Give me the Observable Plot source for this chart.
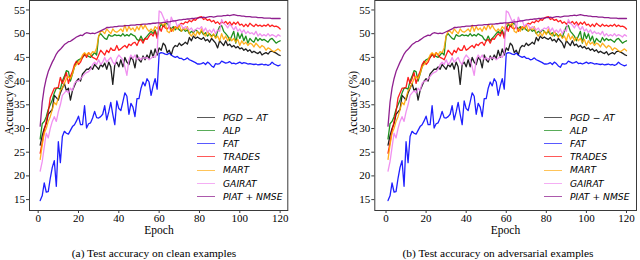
<!DOCTYPE html>
<html>
<head>
<meta charset="utf-8">
<script src="https://cdn.jsdelivr.net/npm/d3@7"></script>
<script src="https://cdn.jsdelivr.net/npm/@observablehq/plot@0.6"></script>
<style>
  html, body { margin: 0; padding: 0; background: #fff; }
  #root { position: relative; width: 640px; height: 260px; overflow: hidden; background: #fff; font-family: "Liberation Serif", "DejaVu Serif", serif; }
  .ylab { position: absolute; font-size: 11.5px; line-height: 12px; white-space: nowrap; transform: translate(-50%, -50%) rotate(-90deg); }
  .xlab { position: absolute; font-size: 11.5px; line-height: 12px; white-space: nowrap; transform: translate(-50%, -50%); }
  .cap { position: absolute; font-size: 11.4px; line-height: 12px; white-space: nowrap; transform: translate(-50%, -50%); }
  .leg { position: absolute; font-family: "DejaVu Sans", sans-serif; font-style: italic; font-size: 9.2px; line-height: 10px; white-space: nowrap; transform: translateY(-50%); }
  .legline { position: absolute; height: 0; border-top: 1.5px solid; }
</style>
</head>
<body>
<div id="root"></div>
<script>
// ---- data ----
const seriesNames = ["PGD \u2212 AT", "ALP", "FAT", "TRADES", "MART", "GAIRAT", "PIAT + NMSE"];
const seriesColors = ["#000000", "#008000", "#0000ff", "#ff0000", "#ffa500", "#ee82ee", "#800080"];
const xTicks = [0, 20, 40, 60, 80, 100, 120];
const yTicks = [15, 20, 25, 30, 35, 40, 45, 50, 55];
const captions = ["(a)  Test accuracy on clean examples", "(b)  Test accuracy on adversarial examples"];

const pgdAT = [
 26.5, 28.5, 30, 31, 33, 33.5, 34, 37, 36.5, 36,
 37.5, 38.5, 39.5, 38, 38.5, 36, 38, 39, 40, 40.5,
 40, 41.5, 42, 42.5, 42.5, 43, 42.5, 43.5, 43, 42.5,
 43.5, 43, 43.8, 42.5, 44, 43, 39.3, 43.5, 44, 43,
 44.5, 43, 45, 44, 43.5, 45, 44.5, 42.8, 45.5, 44.5,
 44, 45.3, 44.5, 45.5, 44.8, 46.5, 45, 46.8, 45.5, 47,
 46.5, 48, 47.5, 46, 46.5, 45.5, 47, 47.5, 47.3, 48,
 47.5, 47.8, 48.2, 47.8, 49.2, 48.5, 49.5, 49, 49.3, 49,
 48.8, 49.2, 48.5, 48.8, 48.2, 49, 48.5, 48, 47, 48.5,
 48, 47.5, 48.5, 47.5, 47.8, 47.2, 47.5, 47, 47.3, 46.8,
 47, 46.5, 46.8, 46.3, 46.6, 46, 46.3, 46, 45.8, 46.2,
 45.5, 45.8, 46, 45.7, 46.2, 46.3, 46.1, 45.9, 45.6, 45.4];
const alp = [
 27.8, 31, 31.5, 32.5, 34, 35, 36, 37.5, 38.5, 38.5,
 38.3, 40, 41, 42.2, 42, 40, 41.5, 43, 44, 44.5,
 44.7, 45, 45.5, 45.5, 45.2, 45, 45.5, 46, 45.5, 49.5,
 50, 49.5, 49, 48.8, 49.8, 49.5, 49.5, 49.8, 49.6, 49.7,
 49.5, 50, 49.5, 49.8, 49.5, 50, 49.7, 49.5, 48.8, 48.5,
 49.5, 48.5, 49, 49.5, 50, 50.5, 50, 50.8, 49.5, 51,
 52, 51.5, 52, 52.2, 51.5, 51, 51.5, 50.8, 51.3, 50.8,
 50.5, 51, 50.5, 50.8, 50, 50.5, 50.2, 50.8, 50.5, 50,
 50.5, 49.8, 50.2, 49.5, 50, 49.5, 49.8, 49.2, 50.5, 51.5,
 51.7, 50.5, 50, 49.5, 48.5, 49.5, 50.5, 48, 50.2, 49,
 50, 48.5, 49.5, 48, 49, 48.5, 48.2, 49.2, 48.5, 49,
 48.6, 48.8, 48.5, 48.2, 48.8, 49, 48.5, 48, 48.3, 48.5];
const fat = [
 14.8, 15.8, 18.5, 16.6, 16.7, 19.5, 21.8, 23.2, 17.8, 27.2,
 22.8, 28.3, 29.4, 29, 28.8, 29.6, 30.4, 30.8, 31.6, 32.6,
 30.8, 30.8, 34.8, 30.1, 31, 31.2, 32.2, 33.6, 32.3, 32.2,
 32.5, 33, 34.8, 31.8, 33.5, 35.5, 33, 30.8, 35.8, 34.2,
 33.8, 35.6, 37.5, 36.8, 33, 35.3, 34.5, 32.5, 36.3, 36.3,
 38.5, 39.8, 39, 40.5, 39.8, 37, 39, 40.5, 38.3, 45.8,
 46, 45.9, 45.7, 45.6, 45.9, 45.5, 45.2, 45, 45.2, 44.8,
 44.8, 44.5, 44.6, 44.9, 44.5, 44.3, 44.1, 43.9, 43.6, 43.6,
 43.7, 43.9, 43.5, 44, 43.7, 43.2, 42.9, 43.7, 43.6, 43.7,
 44.2, 44, 43.8, 43.9, 44.1, 43.7, 43.8, 43.6, 43.8, 44,
 43.7, 43.9, 43.8, 43.6, 43.7, 43.6, 43.5, 43.6, 43.4, 43.5,
 43.6, 43.4, 43.5, 43.3, 43.5, 44, 43.6, 43.4, 43.2, 43.4];
const trades = [
 24.8, 27, 29.5, 31.5, 33.5, 36.5, 37.5, 38.5, 38.5, 38.7,
 40.8, 39.5, 40.5, 41.8, 39.5, 41, 42, 43.5, 44.2, 43.5,
 44, 45, 45.8, 45, 46, 45.5, 45, 44.8, 44.5, 45.5,
 46.5, 46, 45.5, 46.5, 46, 47, 46.5, 46.5, 47.5, 46.5,
 46.8, 47.2, 47.5, 47, 47.8, 47.5, 48, 48.2, 47.5, 48.5,
 48.8, 48, 49, 48.8, 49.5, 50, 49.5, 50.5, 49, 51.5,
 50.5, 51.8, 51.2, 51, 51.5, 50.5, 51, 51.5, 51.2, 51.8,
 52.2, 52, 52.5, 52.3, 52.8, 52.5, 53, 52.8, 53.3, 53.5,
 53.6, 53, 53.2, 52.8, 53, 52.5, 52.8, 52.2, 52.5, 52,
 52.5, 52.2, 52.6, 52, 52.5, 51.8, 52.4, 52, 52.5, 51.8,
 52, 51.5, 52, 51.5, 52.2, 51.8, 51.5, 52, 51.6, 51.8,
 51.5, 51.8, 51.6, 52, 51.5, 51.8, 51.5, 51.6, 51.4, 51];
const mart = [
 23.5, 26.5, 29, 30, 31.5, 32.5, 34, 35.5, 35, 36.5,
 38, 38.5, 39.5, 40.5, 41, 40.5, 41.5, 43, 43.5, 44,
 44.5, 45.5, 46, 45.5, 46, 45.5, 46.2, 46, 47, 49.5,
 50.5, 50.5, 50, 51, 50.5, 50, 51, 50.5, 50.3, 50.6,
 51, 50.4, 51.8, 50.5, 51.5, 50.8, 51.2, 50.5, 51.5, 50.8,
 52, 51, 51.8, 51, 50.5, 51, 50.5, 51.5, 51, 52,
 52.2, 51.8, 52.3, 50.5, 50.2, 51, 50.5, 51.5, 51, 51.8,
 50.5, 51.2, 50.8, 51.5, 50, 49.5, 50.2, 49.5, 50.5, 49.8,
 51, 50, 49.5, 50.5, 49.8, 49.2, 50, 49, 49.5, 48.5,
 50, 48.8, 49.5, 48.5, 49.2, 48.5, 49, 48.2, 48.8, 47.5,
 48.5, 47.8, 48.2, 47.5, 48, 47.8, 47.2, 48, 47.5, 47,
 47.5, 47.2, 46.5, 47, 46.8, 46.4, 46.2, 46.5, 46.8, 46.4];
const gairat = [
 21, 23, 26, 29, 28, 30, 31.5, 32.5, 31.5, 33.5,
 35, 37, 37.5, 38, 37.5, 38.5, 38, 39.5, 40, 40,
 40.5, 41, 41.5, 41.8, 42, 42.5, 43.5, 44, 43.5, 44.5,
 43.5, 44, 45, 44, 44.5, 45, 44, 43.5, 44.8, 45.5,
 45, 44.5, 43, 41.2, 44.5, 45.5, 44.8, 45.5, 44.5, 45,
 44.5, 45, 44.8, 45, 44.5, 44.8, 45.2, 45, 46, 54.8,
 54.5, 53.5, 52.5, 53, 51, 53.5, 52.5, 52.8, 51.5, 52,
 51.8, 51, 51.5, 51.2, 50.8, 51.2, 50.5, 50.8, 51.2, 51,
 51.5, 50.5, 51.2, 50.3, 50.8, 50.2, 51, 50, 50.8, 50.5,
 53, 52.2, 51.8, 51.2, 52, 51.5, 50.8, 51.5, 50.5, 51,
 50.2, 50.8, 50, 50.5, 50, 50.2, 49.8, 50.5, 49.5, 50,
 49.5, 49.8, 49.5, 50, 49.5, 49.8, 49.6, 49.3, 49.8, 49.5];
const piatNMSE = [
 30.5, 35.5, 38.5, 40.5, 42, 43, 44, 44.8, 45.7, 46.3,
 46.7, 47.2, 47.7, 48, 48.3, 48.4, 48.7, 49, 49.3, 49.5,
 49.7, 49.6, 50, 50.2, 50.1, 50, 50.1, 50, 50.2, 50.4,
 50.6, 50.8, 51, 51.3, 51.3, 51.4, 51.4, 51.5, 51.5, 51.6,
 51.6, 51.6, 51.7, 51.7, 51.7, 51.8, 51.8, 51.8, 51.9, 51.9,
 51.9, 52, 52, 52, 52.1, 52.1, 52.2, 52.2, 52.3, 52.3,
 52.3, 52.4, 52.4, 52.5, 52.5, 52.6, 52.7, 52.7, 52.8, 52.9,
 52.9, 53, 53, 53.1, 53.1, 53.2, 53.2, 53.3, 53.3, 53.4,
 53.4, 53.5, 53.4, 53.5, 53.6, 53.6, 53.5, 53.6, 53.7, 53.7,
 53.7, 53.8, 53.8, 53.9, 53.8, 53.9, 54, 53.9, 53.8, 53.8,
 53.7, 53.7, 53.6, 53.6, 53.6, 53.5, 53.5, 53.5, 53.4, 53.4,
 53.4, 53.3, 53.3, 53.3, 53.3, 53.2, 53.2, 53.2, 53.2, 53.2];

// the two panels show the same curves in the reference
const cleanSeries = [pgdAT, alp, fat, trades, mart, gairat, piatNMSE];
const advSeries = [pgdAT, alp, fat, trades, mart, gairat, piatNMSE];

function toRows(list) {
  const rows = [];
  list.forEach((vals, i) => vals.forEach((v, j) => rows.push({epoch: j + 1, acc: v, series: seriesNames[i]})));
  return rows;
}

const root = document.getElementById("root");
const serif = "'Liberation Serif', serif";

function panel(cfg) {
  const rows = toRows(cfg.data);
  const svg = Plot.plot({
    width: cfg.width, height: 238,
    marginLeft: cfg.ml, marginRight: cfg.mr, marginTop: 1, marginBottom: 27,
    x: {domain: cfg.xdom, label: null},
    y: {domain: [12.7, 57.0], label: null},
    color: {domain: seriesNames, range: seriesColors},
    style: {fontFamily: serif, fontSize: "11px", color: "#000", background: "transparent", overflow: "visible"},
    marks: [
      Plot.line(rows, {x: "epoch", y: "acc", z: "series", stroke: "series", strokeWidth: 1.3, strokeOpacity: 0.88}),
      Plot.frame({stroke: "#3a3a3a", strokeWidth: 1}),
      Plot.axisX({ticks: xTicks, tickSize: 3, tickPadding: 1, label: null, stroke: "#3a3a3a", fill: "#000",
                  fontFamily: serif, fontSize: 11, tickFormat: d => String(d)}),
      Plot.axisY({ticks: yTicks, tickSize: 3, tickPadding: 1.5, label: null, stroke: "#3a3a3a", fill: "#000",
                  fontFamily: serif, fontSize: 11, tickFormat: d => String(d)})
    ]
  });
  svg.style.position = "absolute";
  svg.style.left = cfg.left + "px";
  svg.style.top = "-1px";
  root.appendChild(svg);

  const yl = document.createElement("div");
  yl.className = "ylab"; yl.textContent = "Accuracy (%)";
  yl.style.left = cfg.ylabX + "px"; yl.style.top = "103px";
  root.appendChild(yl);

  const xl = document.createElement("div");
  xl.className = "xlab"; xl.textContent = "Epoch";
  xl.style.left = cfg.xlabX + "px"; xl.style.top = "230px";
  root.appendChild(xl);

  const cp = document.createElement("div");
  cp.className = "cap"; cp.textContent = cfg.caption;
  cp.style.left = cfg.capX + "px"; cp.style.top = "252.5px";
  root.appendChild(cp);

  seriesNames.forEach((name, i) => {
    const y = 117.5 + i * 13.2;
    const ln = document.createElement("div");
    ln.className = "legline";
    ln.style.left = cfg.legX + "px"; ln.style.width = "18px";
    ln.style.top = (y - 0.75) + "px";
    ln.style.borderColor = seriesColors[i];
    ln.style.opacity = 0.65;
    root.appendChild(ln);
    const t = document.createElement("div");
    t.className = "leg"; t.textContent = name;
    t.style.left = (cfg.legX + 26) + "px"; t.style.top = y + "px";
    root.appendChild(t);
  });
}

panel({data: cleanSeries, left: 0, width: 300, ml: 29, mr: 12.7, xdom: [-4.3, 123.8],
       ylabX: 8.5, xlabX: 159, capX: 154, caption: captions[0], legX: 197});
panel({data: advSeries, left: 340, width: 300, ml: 34.3, mr: 4, xdom: [-5.6, 125],
       ylabX: 353, xlabX: 505.5, capX: 498, caption: captions[1], legX: 544});
</script>
</body>
</html>
